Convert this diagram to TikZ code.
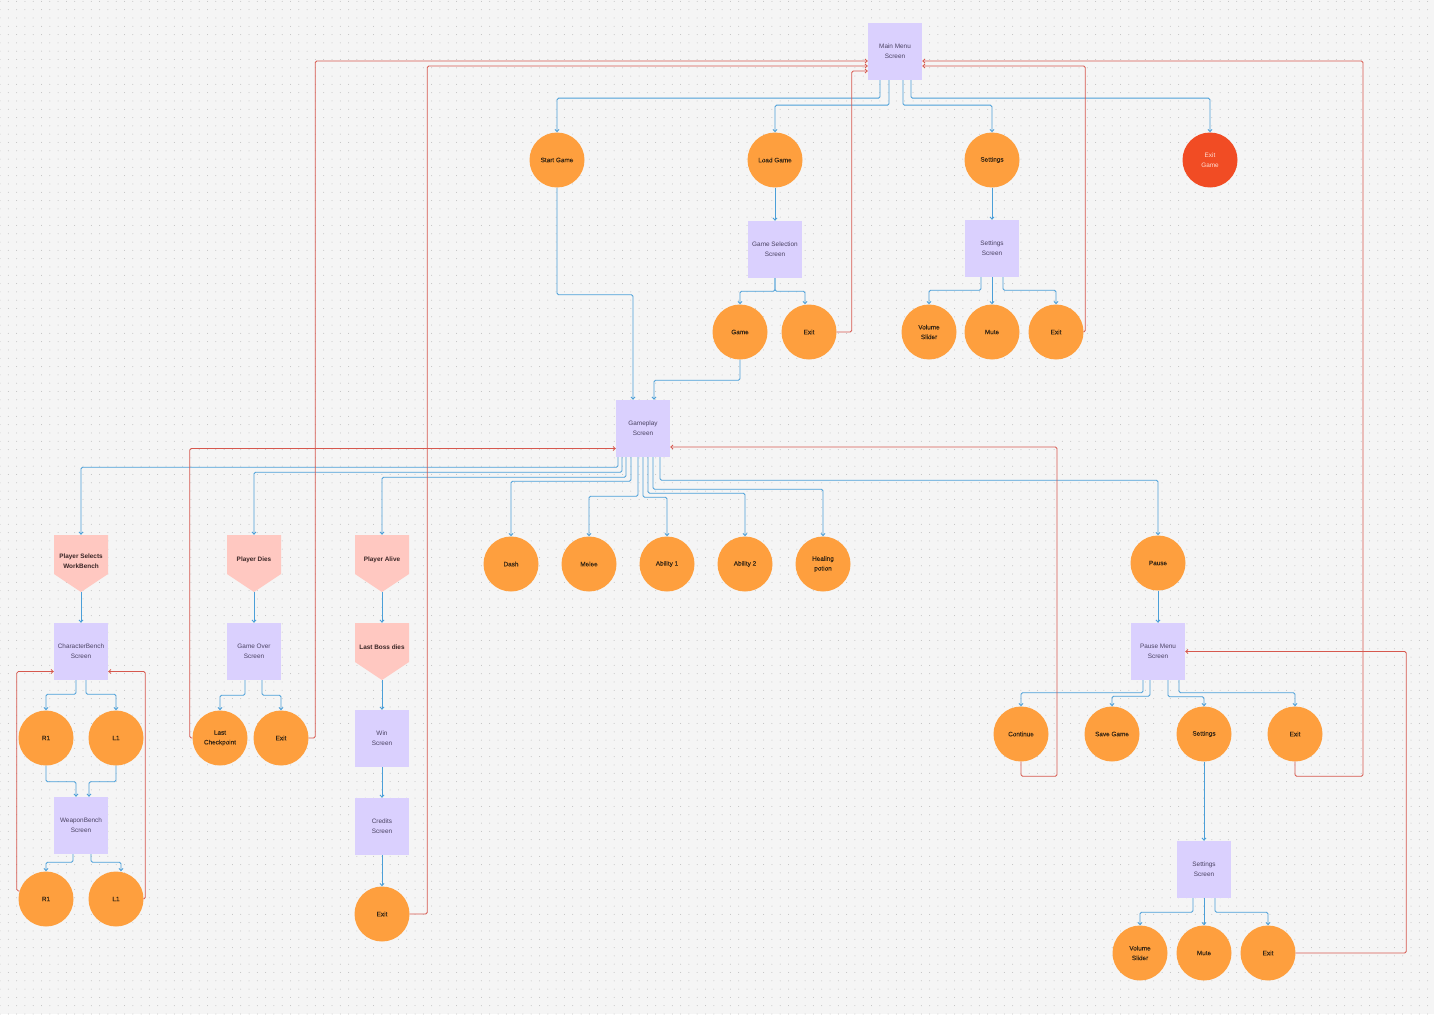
\documentclass[tikz,border=0pt]{standalone}
\usepackage{fontspec}
\setmainfont{Liberation Sans}
\newfontfamily\medfont[FakeBold=0.3]{Liberation Sans}
\usetikzlibrary{arrows.meta,patterns.meta}
\definecolor{bgcol}{HTML}{F5F5F5}
\definecolor{dotcol}{HTML}{BDBDBD}
\definecolor{scrfill}{HTML}{DAD0FE}
\definecolor{scrtext}{HTML}{4A4262}
\definecolor{btnfill}{HTML}{FE9F3E}
\definecolor{btntext}{HTML}{3A2815}
\definecolor{exitfill}{HTML}{F14C24}
\definecolor{exittext}{HTML}{FFE0D6}
\definecolor{evtfill}{HTML}{FFC8C1}
\definecolor{evttext}{HTML}{3A2626}
\definecolor{lblue}{HTML}{4B9FD8}
\definecolor{lred}{HTML}{D6584E}
\newcommand{\dgfont}{\fontsize{6.4}{9.7}\selectfont}
\newcommand{\evtxt}[1]{\raisebox{12pt}{\begin{tabular}{@{}c@{}}#1\end{tabular}}}
\tikzdeclarepattern{name=figdots,type=uncolored,
  bounding box={(-4.15pt,-4.15pt) and (4.15pt,4.15pt)},
  tile size={(8.3pt,8.3pt)},
  code={\fill (0pt,0pt) circle (0.5pt);}}
\tikzset{
  scr/.style={rectangle,fill=scrfill,minimum width=54pt,minimum height=57pt,inner sep=0pt,align=center,text=scrtext,font=\dgfont},
  btn/.style={circle,fill=btnfill,minimum size=55pt,inner sep=0pt,align=center,text=btntext,font=\dgfont\medfont},
  btnx/.style={btn,fill=exitfill,text=exittext,font=\dgfont},
  evt/.style={rectangle,minimum width=54pt,minimum height=57pt,inner sep=0pt,align=center,text=evttext,font=\dgfont\bfseries,
    path picture={\fill[evtfill] (path picture bounding box.north west) -- (path picture bounding box.north east)
      -- ([yshift=18pt]path picture bounding box.south east) -- (path picture bounding box.south)
      -- ([yshift=18pt]path picture bounding box.south west) -- cycle;}},
  bl/.style={draw=lblue,line width=0.9pt,rounded corners=1.5pt,-{Straight Barb[length=2.2pt,width=4pt]}},
  rd/.style={draw=lred,line width=0.8pt,rounded corners=1.5pt,-{Straight Barb[length=2.2pt,width=4pt]}}
}
\begin{document}
\begin{tikzpicture}[x=1pt,y=-1pt]
\useasboundingbox (0,0) rectangle (1434,1014);
\fill[bgcol] (0,0) rectangle (1434,1014);
\fill[pattern=figdots,pattern color=dotcol] (0,0) rectangle (1434,1014);

% nodes
\node[scr] (mm) at (895,51.5) {Main Menu\\Screen};
\node[btn] (sg) at (557,160) {Start Game};
\node[btn] (lg) at (775,160) {Load Game};
\node[btn] (st) at (992,160) {Settings};
\node[btnx] (eg) at (1210,160) {Exit\\Game};
\node[scr] (gss) at (775,249.5) {Game Selection\\Screen};
\node[scr] (sts) at (992,248.5) {Settings\\Screen};
\node[btn] (gm) at (740,332) {Game};
\node[btn] (ex1) at (809,332) {Exit};
\node[btn] (vs1) at (929,332) {Volume\\Slider};
\node[btn] (mu1) at (992,332) {Mute};
\node[btn] (ex2) at (1056,332) {Exit};
\node[scr] (gp) at (643,428.5) {Gameplay\\Screen};
\node[evt] (pw) at (81,563.5) {\evtxt{Player Selects\\WorkBench}};
\node[evt] (pd) at (254,563.5) {\evtxt{Player Dies}};
\node[evt] (pa) at (382,563.5) {\evtxt{Player Alive}};
\node[btn] (da) at (511,564) {Dash};
\node[btn] (me) at (589,564) {Melee};
\node[btn] (a1) at (667,564) {Ability 1};
\node[btn] (a2) at (745,564) {Ability 2};
\node[btn] (hp) at (823,564) {Healing\\potion};
\node[btn] (ps) at (1158,563) {Pause};
\node[scr] (cb) at (81,651.5) {CharacterBench\\Screen};
\node[scr] (go) at (254,651.5) {Game Over\\Screen};
\node[evt] (lb) at (382,651.5) {\evtxt{Last Boss dies}};
\node[scr] (pm) at (1158,651.5) {Pause Menu\\Screen};
\node[btn] (r1) at (46,738) {R1};
\node[btn] (l1) at (116,738) {L1};
\node[btn] (lc) at (220,738) {Last\\Checkpoint};
\node[btn] (goex) at (281,738) {Exit};
\node[scr] (ws) at (382,738.5) {Win\\Screen};
\node[btn] (co) at (1021,734) {Continue};
\node[btn] (sv) at (1112,734) {Save Game};
\node[btn] (pst) at (1204,734) {Settings};
\node[btn] (pex) at (1295,734) {Exit};
\node[scr] (wb) at (81,825.5) {WeaponBench\\Screen};
\node[scr] (cs) at (382,826.5) {Credits\\Screen};
\node[btn] (r1b) at (46,899) {R1};
\node[btn] (l1b) at (116,899) {L1};
\node[btn] (crex) at (382,914) {Exit};
\node[scr] (pss) at (1204,869.5) {Settings\\Screen};
\node[btn] (pvs) at (1140,953) {Volume\\Slider};
\node[btn] (pmu) at (1204,953) {Mute};
\node[btn] (pex2) at (1268,953) {Exit};

% blue connectors: main menu
\draw[bl] ([xshift=-15pt]mm.south) -- ++(0,18) -| (sg.north);
\draw[bl] ([xshift=-6pt]mm.south) -- ++(0,25) -| (lg.north);
\draw[bl] ([xshift=8pt]mm.south) -- ++(0,25) -| (st.north);
\draw[bl] ([xshift=16pt]mm.south) -- ++(0,18) -| (eg.north);
\draw[bl] (lg.south) -- (gss.north);
\draw[bl] (st.south) -- (sts.north);
\draw[bl] (sg.south) -- ++(0,107) -| ([xshift=-10pt]gp.north);
\draw[bl] (gm.south) -- ++(0,20.5) -| ([xshift=11pt]gp.north);
\draw[bl] (gss.south) -- ++(0,13) -| (gm.north);
\draw[bl] (gss.south) -- ++(0,13) -| ([xshift=-4pt]ex1.north);
\draw[bl] ([xshift=-11pt]sts.south) -- ++(0,13) -| (vs1.north);
\draw[bl] (sts.south) -- (mu1.north);
\draw[bl] ([xshift=11pt]sts.south) -- ++(0,13) -| (ex2.north);

% blue connectors: gameplay
\draw[bl] ([xshift=-25pt]gp.south) -- ++(0,10) -| (pw.north);
\draw[bl] ([xshift=-21pt]gp.south) -- ++(0,15) -| (pd.north);
\draw[bl] ([xshift=-17pt]gp.south) -- ++(0,20) -| (pa.north);
\draw[bl] ([xshift=-12pt]gp.south) -- ++(0,24) -| (da.north);
\draw[bl] ([xshift=-5pt]gp.south) -- ++(0,39) -| (me.north);
\draw[bl] ([xshift=0pt]gp.south) -- ++(0,40) -| (a1.north);
\draw[bl] ([xshift=5pt]gp.south) -- ++(0,36) -| (a2.north);
\draw[bl] ([xshift=10pt]gp.south) -- ++(0,32) -| (hp.north);
\draw[bl] ([xshift=17pt]gp.south) -- ++(0,23) -| (ps.north);

% left column
\draw[bl] (pw.south) -- (cb.north);
\draw[bl] ([xshift=-5pt]cb.south) -- ++(0,14) -| (r1.north);
\draw[bl] ([xshift=5pt]cb.south) -- ++(0,14) -| (l1.north);
\draw[bl] (r1.south) -- ++(0,16) -| ([xshift=-5pt]wb.north);
\draw[bl] (l1.south) -- ++(0,16) -| ([xshift=8pt]wb.north);
\draw[bl] ([xshift=-8pt]wb.south) -- ++(0,8) -| (r1b.north);
\draw[bl] ([xshift=10pt]wb.south) -- ++(0,8) -| ([xshift=5pt]l1b.north);
\draw[bl] (pd.south) -- (go.north);
\draw[bl] ([xshift=-9pt]go.south) -- ++(0,15) -| (lc.north);
\draw[bl] ([xshift=8pt]go.south) -- ++(0,15) -| (goex.north);
\draw[bl] (pa.south) -- (lb.north);
\draw[bl] (lb.south) -- (ws.north);
\draw[bl] (ws.south) -- (cs.north);
\draw[bl] (cs.south) -- (crex.north);

% pause branch
\draw[bl] (ps.south) -- (pm.north);
\draw[bl] ([xshift=-15pt]pm.south) -- ++(0,12.5) -| (co.north);
\draw[bl] ([xshift=-8pt]pm.south) -- ++(0,16) -| (sv.north);
\draw[bl] ([xshift=10pt]pm.south) -- ++(0,16.5) -| (pst.north);
\draw[bl] ([xshift=21pt]pm.south) -- ++(0,12.5) -| (pex.north);
\draw[bl] (pst.south) -- (pss.north);
\draw[bl] ([xshift=-11pt]pss.south) -- ++(0,14) -| (pvs.north);
\draw[bl] (pss.south) -- (pmu.north);
\draw[bl] ([xshift=11pt]pss.south) -- ++(0,14) -| (pex2.north);

% red return connectors
\draw[rd] (ex1.east) -- ++(15,0) |- ([yshift=-19.5pt]mm.west);
\draw[rd] (ex2.east) -- ++(1.5,0) |- ([yshift=-14.5pt]mm.east);
\draw[rd] (pex.south) -- ++(0,14.5) -| (1363,61) -- ([yshift=-9.5pt]mm.east);
\draw[rd] (goex.east) -- ++(6.5,0) |- ([yshift=-9.5pt]mm.west);
\draw[rd] (crex.east) -- ++(17.5,0) |- ([yshift=-14.5pt]mm.west);
\draw[rd] (lc.west) -- ++(-2.5,0) |- ([yshift=-20pt]gp.west);
\draw[rd] (co.south) -- ++(0,14.5) -| (1057,447) -- ([yshift=-18.5pt]gp.east);
\draw[rd] (pex2.east) -- ++(110.5,0) |- (pm.east);
\draw[rd] (r1b.163) -- ++(-2.7,0) |- ([yshift=-20pt]cb.west);
\draw[rd] (l1b.east) -- ++(1.5,0) |- ([yshift=-20pt]cb.east);
\end{tikzpicture}
\end{document}
